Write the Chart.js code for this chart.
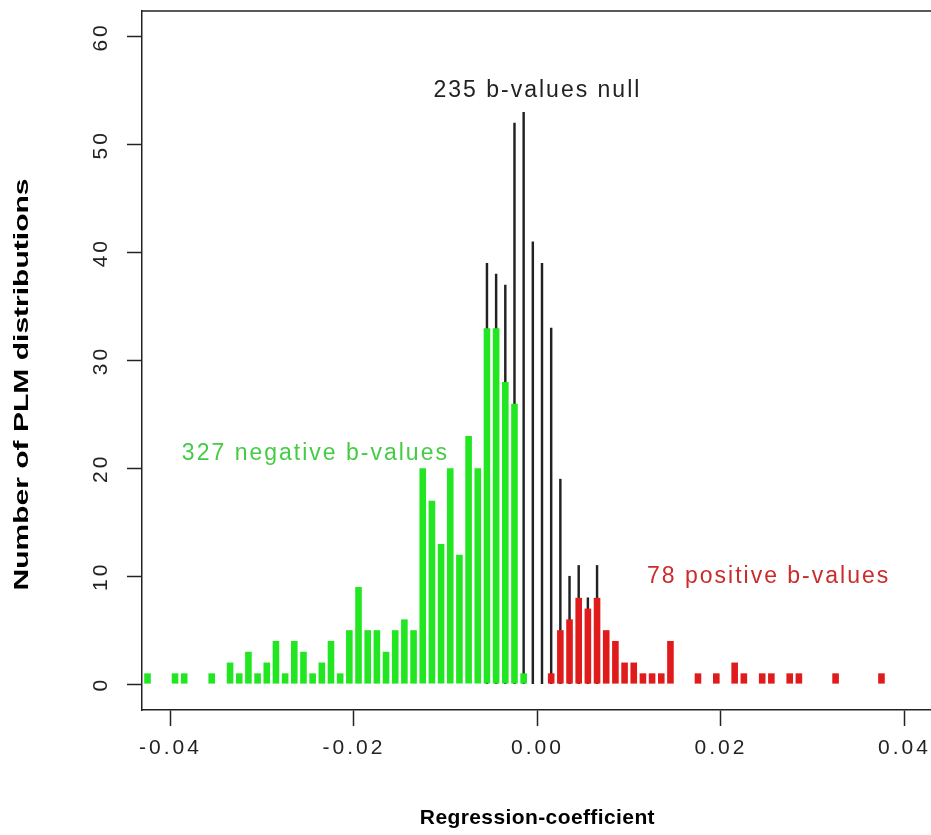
<!DOCTYPE html>
<html>
<head>
<meta charset="utf-8">
<script src="https://cdn.jsdelivr.net/npm/chart.js@4/dist/chart.umd.min.js"></script>
<style>
  html, body { margin: 0; padding: 0; background: #fff; overflow: hidden; }
  canvas { display: block; }
</style>
</head>
<body>
<canvas id="histChart" width="931" height="835"></canvas>
<script>
// bin centres (regression coefficient) and counts
const negX = [-0.0425, -0.0395, -0.0385, -0.0355, -0.0335, -0.0325, -0.0315, -0.0305, -0.0295, -0.0285,
  -0.0275, -0.0265, -0.0255, -0.0245, -0.0235, -0.0225, -0.0215, -0.0205, -0.0195, -0.0185,
  -0.0175, -0.0165, -0.0155, -0.0145, -0.0135, -0.0125, -0.0115, -0.0105, -0.0095, -0.0085,
  -0.0075, -0.0065, -0.0055, -0.0045, -0.0035, -0.0025, -0.0015];
const negCount = [1, 1, 1, 1, 2, 1, 3, 1, 2, 4,
  1, 4, 3, 1, 2, 4, 1, 5, 9, 5,
  5, 3, 5, 6, 5, 20, 17, 13, 20, 12,
  23, 20, 33, 33, 28, 26, 1];

const posX = [0.0015, 0.0025, 0.0035, 0.0045, 0.0055, 0.0065, 0.0075, 0.0085, 0.0095, 0.0105,
  0.0115, 0.0125, 0.0135, 0.0145, 0.0175, 0.0195, 0.0215, 0.0225, 0.0245, 0.0255,
  0.0275, 0.0285, 0.0325, 0.0375];
const posCount = [1, 5, 6, 8, 7, 8, 5, 4, 2, 2,
  1, 1, 1, 4, 1, 1, 2, 1, 1, 1,
  1, 1, 1, 1];

// all b-values per bin (thin black lines, only where they rise above the coloured bars)
const allX = [-0.0055, -0.0045, -0.0035, -0.0025, -0.0015, -0.0005, 0.0005, 0.0015, 0.0025, 0.0035, 0.0045, 0.0055, 0.0065];
const allCount = [39, 38, 37, 52, 53, 41, 39, 33, 19, 10, 11, 8, 11];

const xTicks = [-0.04, -0.02, 0, 0.02, 0.04];
const yTicks = [0, 10, 20, 30, 40, 50, 60];

const xTitle = "Regression-coefficient";
const yTitle = "Number of PLM distributions";

const notes = [
  { text: "235 b-values null", x: 0, y: 55, color: "#222222" },
  { text: "327 negative b-values", x: -0.0242, y: 21.4, color: "#44cc44" },
  { text: "78 positive b-values", x: 0.0252, y: 10, color: "#cc2b2b" },
];

const FONT = "'Liberation Sans', Arial, sans-serif";

const toPoints = (xs, ys) => xs.map((x, i) => ({ x: x, y: ys[i] }));

// R style: wide spaced tick labels, box top edge, axis titles and the text labels
const rStyle = {
  id: "rStyle",
  beforeDraw(chart) {
    chart.ctx.letterSpacing = "3px";
  },
  beforeDatasetsDraw(chart) {
    chart.ctx.letterSpacing = "0px";
  },
  afterDraw(chart) {
    const { ctx, chartArea, scales } = chart;
    ctx.save();
    ctx.strokeStyle = "#222";
    ctx.lineWidth = 1.5;
    ctx.beginPath();
    ctx.moveTo(chartArea.left, chartArea.top);
    ctx.lineTo(chartArea.right, chartArea.top);
    ctx.stroke();

    ctx.textAlign = "center";
    ctx.textBaseline = "middle";

    ctx.font = "23px " + FONT;
    ctx.letterSpacing = "2px";
    for (const n of notes) {
      ctx.fillStyle = n.color;
      ctx.fillText(n.text, scales.x.getPixelForValue(n.x), scales.y.getPixelForValue(n.y));
    }

    ctx.fillStyle = "#000";
    ctx.font = "bold 21px " + FONT;
    ctx.letterSpacing = "0.4px";
    ctx.fillText(xTitle, scales.x.getPixelForValue(0), 818);

    // y title, stretched along the axis like the original
    ctx.save();
    ctx.translate(22, (chartArea.top + chartArea.bottom) / 2 + 24);
    ctx.rotate(-Math.PI / 2);
    ctx.scale(1.43, 1);
    ctx.letterSpacing = "0px";
    ctx.fillText(yTitle, 0, 0);
    ctx.restore();

    ctx.restore();
  },
};

Chart.defaults.font.family = FONT;
Chart.defaults.color = "#222";

const barStyle = {
  grouped: false,
  borderWidth: 0,
  categoryPercentage: 1,
  barPercentage: 0.72,
};

new Chart(document.getElementById("histChart"), {
  type: "bar",
  data: {
    datasets: [
      {
        label: "negative",
        data: toPoints(negX, negCount),
        backgroundColor: "#22e622",
        order: 1,
        ...barStyle,
      },
      {
        label: "positive",
        data: toPoints(posX, posCount),
        backgroundColor: "#e01b1b",
        order: 1,
        ...barStyle,
      },
      {
        label: "all",
        data: toPoints(allX, allCount),
        backgroundColor: "#222222",
        order: 2,
        grouped: false,
        borderWidth: 0,
        barThickness: 1.8,
      },
    ],
  },
  options: {
    responsive: false,
    animation: false,
    layout: { padding: { top: 11, left: 0, right: 0, bottom: 0 } },
    plugins: { legend: { display: false }, tooltip: { enabled: false } },
    scales: {
      x: {
        type: "linear",
        offset: false,
        min: -0.0431,
        max: 0.0429,
        afterBuildTicks: (s) => { s.ticks = xTicks.map((v) => ({ value: v })); },
        afterFit: (s) => {
          s.height = 125;
          s.paddingLeft = 0;
          s.paddingRight = 0;
        },
        grid: { offset: false, drawOnChartArea: false, tickLength: 16, tickColor: "#222", tickWidth: 1.5 },
        border: { display: true, color: "#222", width: 1.5 },
        ticks: {
          font: { size: 21 },
          color: "#222",
          padding: 10,
          maxRotation: 0,
          callback: (v) => v.toFixed(2),
        },
      },
      y: {
        min: -2.4,
        max: 62.4,
        afterBuildTicks: (s) => { s.ticks = yTicks.map((v) => ({ value: v })); },
        afterFit: (s) => {
          s.width = 142;
          s.paddingTop = 0;
          s.paddingBottom = 0;
        },
        grid: { drawOnChartArea: false, tickLength: 15, tickColor: "#222", tickWidth: 1.5 },
        border: { display: true, color: "#222", width: 1.5 },
        ticks: {
          font: { size: 21 },
          color: "#222",
          padding: 14,
          minRotation: 90,
          maxRotation: 90,
          crossAlign: "center",
        },
      },
    },
  },
  plugins: [rStyle],
});
</script>
</body>
</html>
